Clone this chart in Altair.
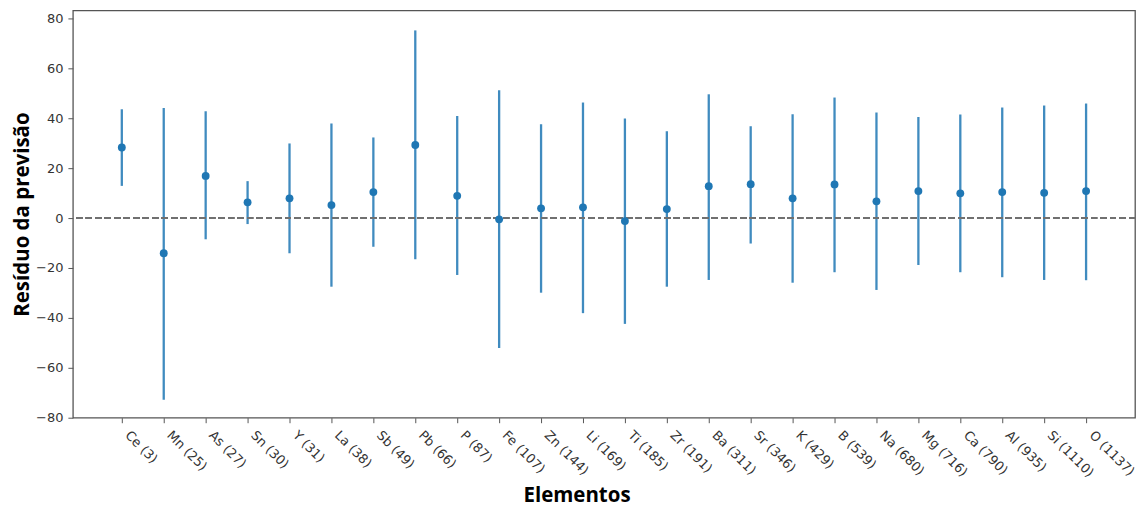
import altair as alt
import pandas as pd

# Data
elementos = ["Ce (3)", "Mn (25)", "As (27)", "Sn (30)", "Y (31)", "La (38)", "Sb (49)",
             "Pb (66)", "P (87)", "Fe (107)", "Zn (144)", "Li (169)", "Ti (185)", "Zr (191)",
             "Ba (311)", "Sr (346)", "K (429)", "B (539)", "Na (680)", "Mg (716)",
             "Ca (790)", "Al (935)", "Si (1110)", "O (1137)"]
residuo = [28.3, -14.1, 16.9, 6.3, 7.9, 5.2, 10.4, 29.3, 8.9, -0.5, 3.9, 4.3, -1.2, 3.6,
           12.8, 13.6, 7.9, 13.5, 6.7, 10.8, 9.9, 10.4, 10.1, 10.8]
limite_sup = [43.6, 44.1, 42.8, 14.8, 29.9, 37.9, 32.3, 75.2, 40.9, 51.2, 37.6, 46.3, 39.9, 34.8,
              49.6, 36.8, 41.6, 48.3, 42.3, 40.5, 41.5, 44.3, 45.1, 45.9]
limite_inf = [12.9, -72.8, -8.5, -2.4, -14.1, -27.5, -11.5, -16.5, -22.8, -52.1, -29.9, -38.1,
              -42.4, -27.5, -24.8, -10.2, -25.9, -21.7, -28.8, -18.8, -21.7, -23.7, -24.8, -24.9]
y_ticks = [-80, -60, -40, -20, 0, 20, 40, 60, 80]

n = len(elementos)
df = pd.DataFrame({"idx": list(range(n)), "elemento": elementos, "residuo": residuo,
                   "sup": limite_sup, "inf": limite_inf})

BLUE = "#1f77b4"

label_array = "[" + ",".join("'" + e + "'" for e in elementos) + "]"

x_scale = alt.Scale(domain=[-1.167, n - 1 + 1.167], nice=False, zero=False)
x_axis = alt.Axis(title="Elementos", values=list(range(n)),
                  labelExpr=label_array + "[datum.value]",
                  labelAngle=45, labelAlign="left", labelBaseline="bottom",
                  labelPadding=15, labelOverlap=False, labelFlush=False,
                  tickSize=5, grid=False,
                  titleX=504.5, titleY=83.7, titleBaseline="alphabetic")

y_scale = alt.Scale(domain=[-80, 83.2], nice=False, zero=False)
y_axis = alt.Axis(title="Resíduo da previsão", values=y_ticks, tickSize=5,
                  labelPadding=5, titlePadding=3, grid=False)

base = alt.Chart(df)

bars = base.mark_rule(color=BLUE, strokeWidth=2.3, opacity=0.85).encode(
    x=alt.X("idx:Q", scale=x_scale, axis=x_axis),
    y=alt.Y("inf:Q", scale=y_scale, axis=y_axis),
    y2="sup:Q",
)

zero_line = base.mark_rule(color="#707070", strokeDash=[6, 3.5], strokeWidth=1.5).encode(
    y=alt.YDatum(0)
)

points = base.mark_circle(color=BLUE, size=62, opacity=1).encode(
    x=alt.X("idx:Q", scale=x_scale, axis=x_axis),
    y=alt.Y("residuo:Q", scale=y_scale, axis=y_axis),
    tooltip=["elemento:N", "residuo:Q"],
)

chart = alt.layer(bars, zero_line, points).properties(
    width=1064, height=408,
    autosize=alt.AutoSizeParams(type="none"),
    padding={"left": 65, "top": 2, "right": 5, "bottom": 92},
).configure_view(
    stroke="#555555", strokeWidth=1.3
).configure_axis(
    domain=False, grid=False,
    labelFont="DejaVu Sans", labelFontSize=13, labelColor="#333333",
    tickColor="#555555", tickWidth=1,
    titleFont="Open Sans", titleFontSize=20.5, titleFontWeight="bold", titleColor="#000000",
)

chart.save("out.html", embed_options={"renderer": "svg", "actions": False})
